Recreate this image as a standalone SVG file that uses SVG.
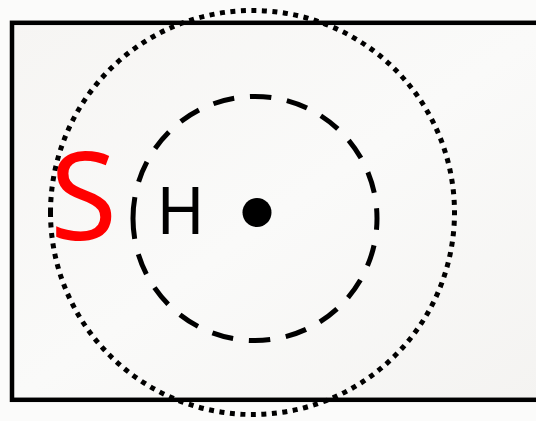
<svg xmlns="http://www.w3.org/2000/svg" width="536" height="421" viewBox="0 0 536 421">
  <defs>
    <linearGradient id="bg" x1="0" y1="0" x2="1" y2="1">
      <stop offset="0" stop-color="#f6f5f3"/>
      <stop offset="0.5" stop-color="#fafaf9"/>
      <stop offset="1" stop-color="#f4f3f1"/>
    </linearGradient>
  </defs>
  <style>
    .frame { fill: url(#bg); stroke: #000; stroke-width: 4.5; }
    .outer { fill: none; stroke: #000; stroke-width: 5; stroke-dasharray: 5 5.535; }
    .inner { fill: none; stroke: #000; stroke-width: 5; stroke-dasharray: 21.5 15.8; }
    .lbl { font-family: "Noto Sans", "Open Sans", "Liberation Sans", sans-serif; text-anchor: middle; }
  </style>
  <rect x="0" y="0" width="536" height="421" fill="#fbfbfa"/>
  <g id="frame">
    <rect class="frame" x="12" y="22.8" width="540" height="377"/>
  </g>
  <g id="outer-circle">
    <path class="outer" d="M 50.5,212.5 A 202 202 0 1 1 454.5,212.5 A 202 202 0 1 1 50.5,212.5"/>
  </g>
  <g id="inner-circle">
    <path class="inner" d="M 133,218.5 A 122 122 0 1 1 377,218.5 A 122 122 0 1 1 133,218.5"/>
  </g>
  <g id="nucleus">
    <circle cx="257" cy="212.5" r="14.5" fill="#000"/>
  </g>
  <g id="label-H">
    <text class="lbl" x="180.5" y="234" font-size="65" fill="#000">H</text>
  </g>
  <g id="label-S">
    <text class="lbl" x="83.5" y="240" font-size="122" fill="#ff0000">S</text>
  </g>
</svg>
